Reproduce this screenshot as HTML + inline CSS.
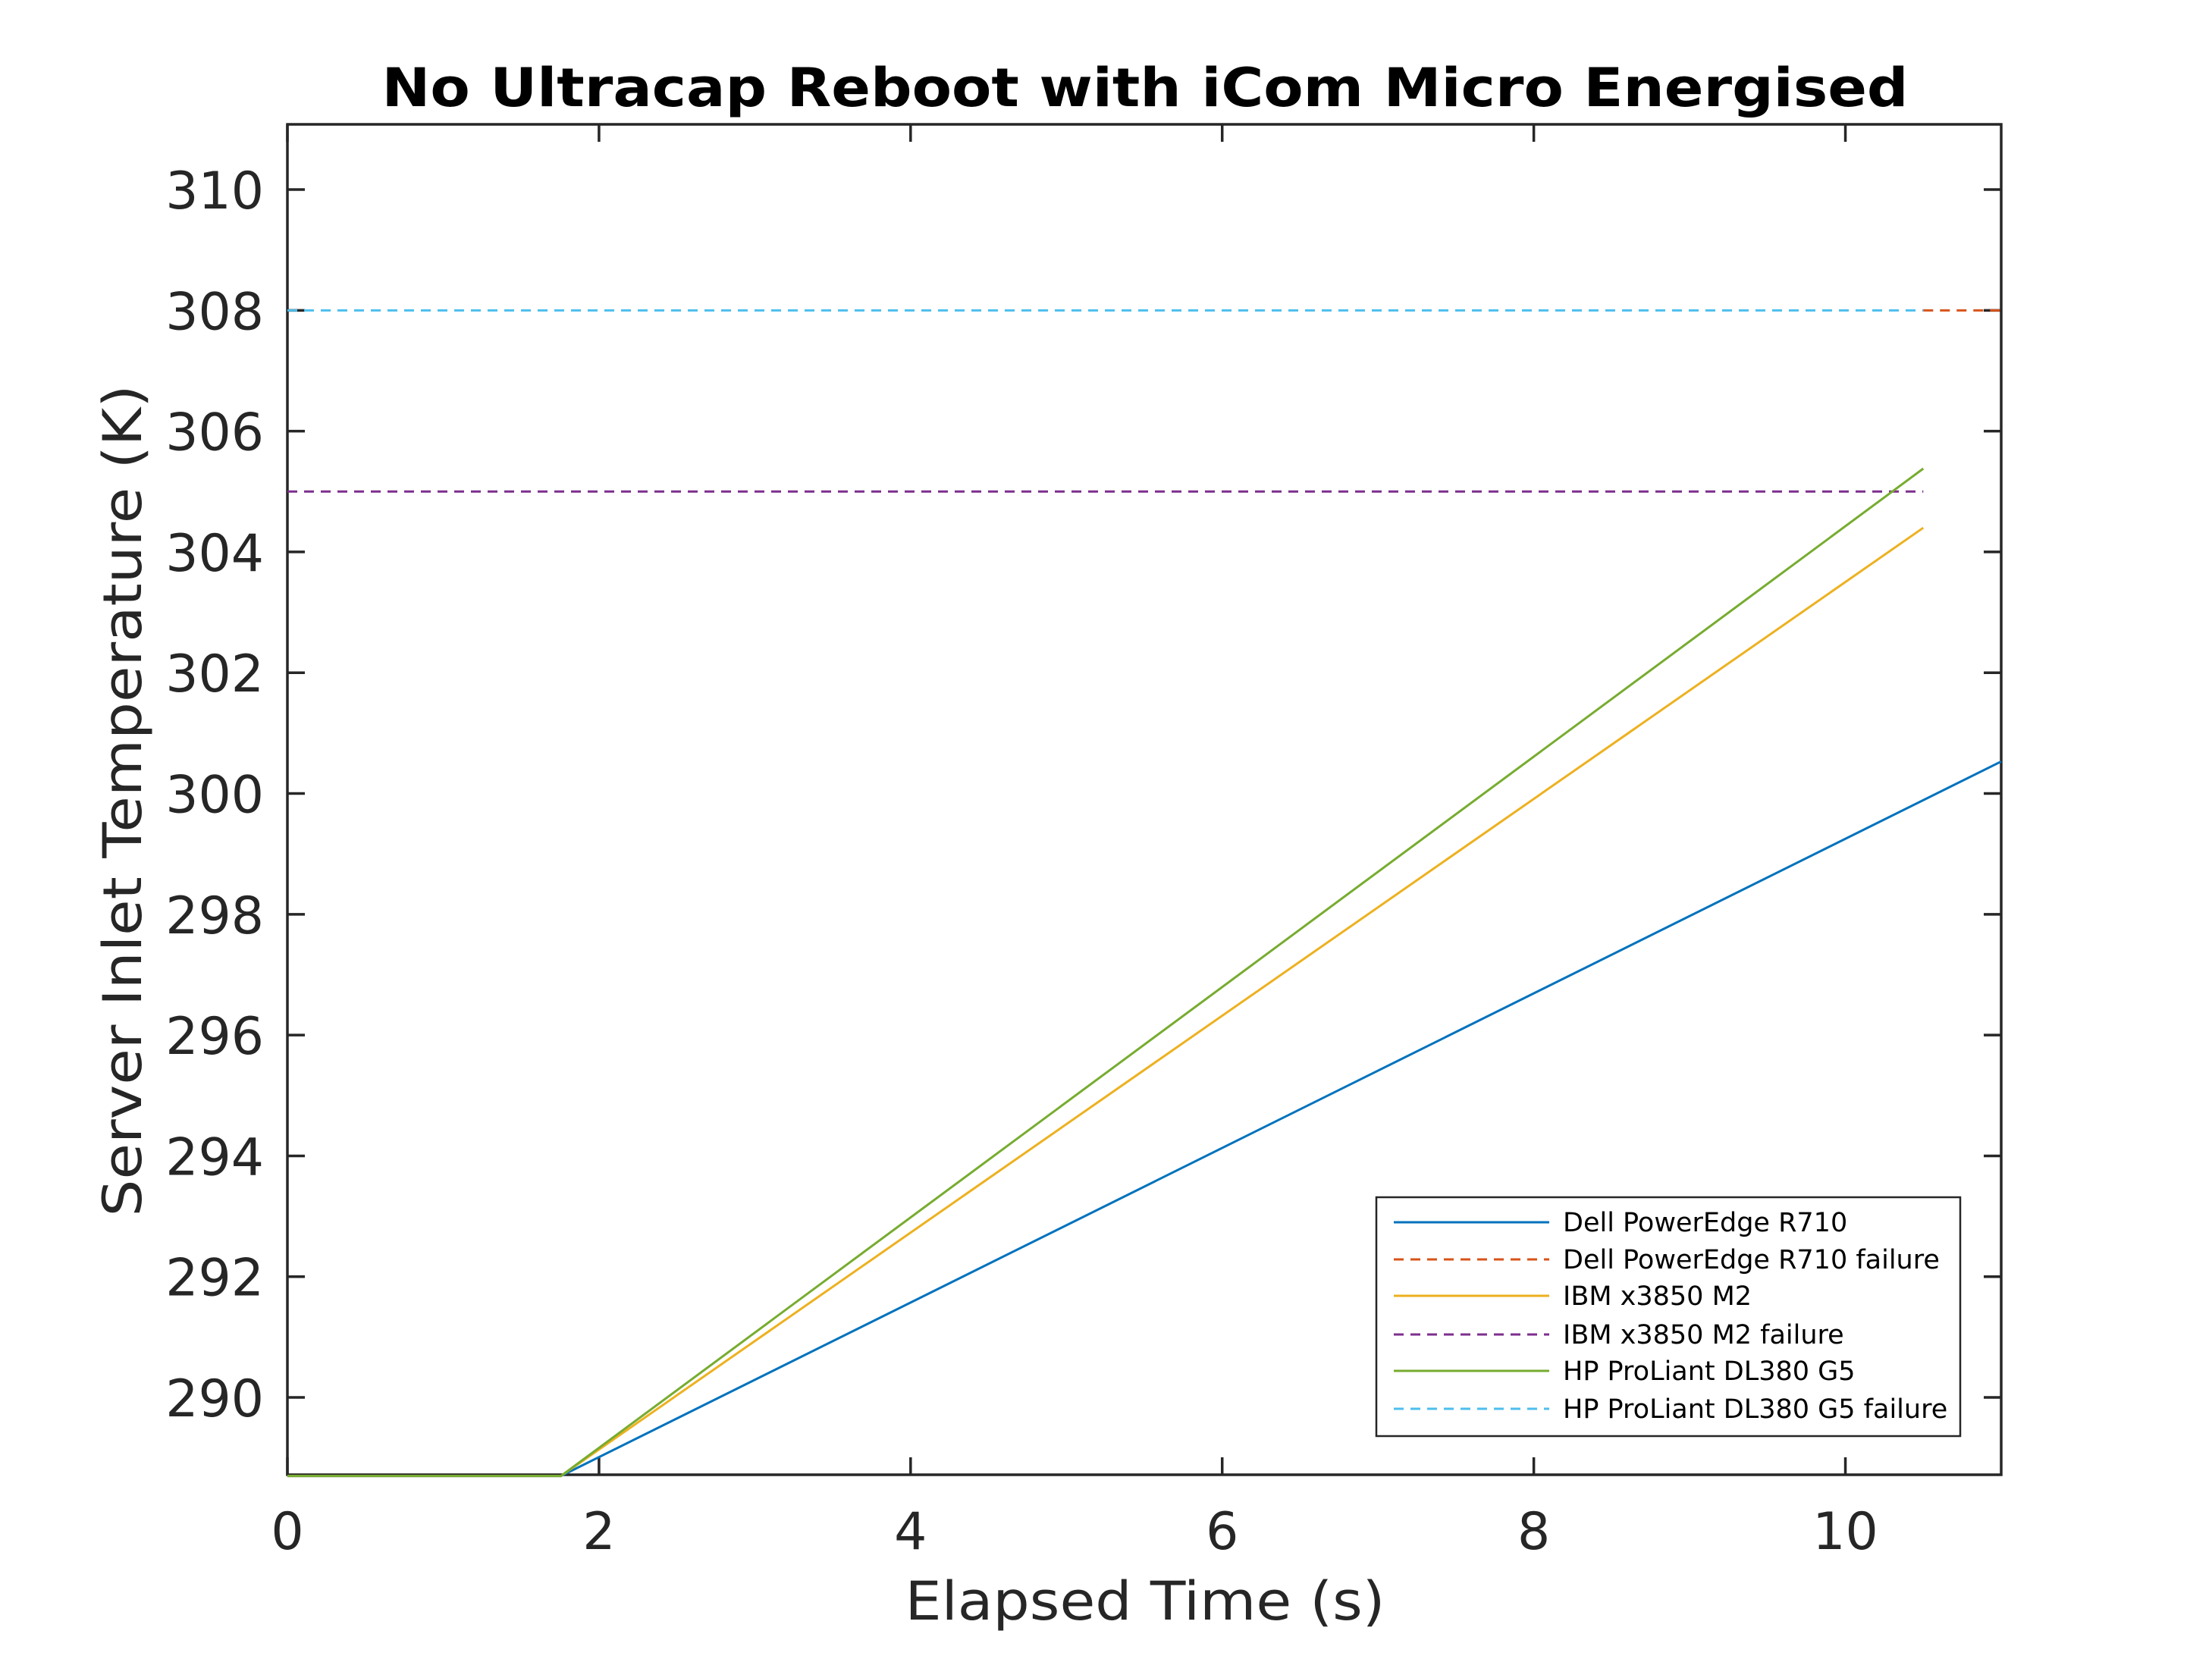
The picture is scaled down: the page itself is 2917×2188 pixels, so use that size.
<!DOCTYPE html>
<html><head><meta charset="utf-8"><style>
html,body{margin:0;padding:0;background:#fff}
svg{display:block}
text{font-family:"DejaVu Sans","Liberation Sans",sans-serif;fill:#262626}
</style></head><body>
<svg id="chart" width="2917" height="2188" viewBox="0 0 2917 2188" xmlns="http://www.w3.org/2000/svg">
<rect width="2917" height="2188" fill="#fff"/>
<text x="1510" y="140" text-anchor="middle" font-size="70" font-weight="bold" style="fill:#000" textLength="2013" lengthAdjust="spacingAndGlyphs">No Ultracap Reboot with iCom Micro Energised</text>
<g id="ticks"></g>
<rect x="379" y="164" width="2260" height="1781" fill="none" stroke="#262626" stroke-width="3.5"/>
<g id="series"></g>
<text x="1510" y="2136" text-anchor="middle" font-size="70" textLength="633" lengthAdjust="spacingAndGlyphs">Elapsed Time (s)</text>
<text transform="translate(186,1056) rotate(-90)" text-anchor="middle" font-size="70" textLength="1097" lengthAdjust="spacingAndGlyphs">Server Inlet Temperature (K)</text>
<g id="legend">
<rect x="1815" y="1579" width="770" height="315" fill="#fff" stroke="#262626" stroke-width="2.5"/>
</g>
</svg>
<script>
const xTicks=[0,2,4,6,8,10];
const yTicks=[290,292,294,296,298,300,302,304,306,308,310];
const xMin=0,xMax=11,yMin=288.72,yMax=311.08;
const names=["Dell PowerEdge R710","Dell PowerEdge R710 failure","IBM x3850 M2","IBM x3850 M2 failure","HP ProLiant DL380 G5","HP ProLiant DL380 G5 failure"];
const colors=["#0072BD","#D95319","#EDB120","#7E2F8E","#77AC30","#4DBEEE"];
const dashed=[false,true,false,true,false,true];
const dellX=[0,1.756,11];
const dellY=[288.70,288.70,300.53];
const dellFailX=[10.5,11];
const dellFailY=[308,308];
const ibmX=[0,1.756,10.5];
const ibmY=[288.70,288.70,304.40];
const ibmFailX=[0,10.5];
const ibmFailY=[305,305];
const hpX=[0,1.756,10.5];
const hpY=[288.70,288.70,305.38];
const hpFailX=[0,10.5];
const hpFailY=[308,308];
const seriesX=[dellX,dellFailX,ibmX,ibmFailX,hpX,hpFailX];
const seriesY=[dellY,dellFailY,ibmY,ibmFailY,hpY,hpFailY];
const L=379,R=2639,T=164,B=1945;
const sx=v=>L+(v-xMin)/(xMax-xMin)*(R-L);
const sy=v=>B-(v-yMin)/(yMax-yMin)*(B-T);
const NS="http://www.w3.org/2000/svg";
function mk(tag,attrs,parent){const e=document.createElementNS(NS,tag);for(const k in attrs)e.setAttribute(k,attrs[k]);parent.appendChild(e);return e;}
const tg=document.getElementById('ticks');
xTicks.forEach(v=>{const x=sx(v);
 const t1=mk('line',{x1:x,x2:x,y1:B,y2:B-23,stroke:'#262626','stroke-width':3.5},tg);
 
 
 const t2=mk('line',{x1:x,x2:x,y1:T,y2:T+23,stroke:'#262626','stroke-width':3.5},tg);
 
 
 const lb=mk('text',{x:x,y:2043,'text-anchor':'middle','font-size':68},tg);lb.textContent=v;
 
 
});
yTicks.forEach(v=>{const y=sy(v);
 const t1=mk('line',{x1:L,x2:L+23,y1:y,y2:y,stroke:'#262626','stroke-width':3.5},tg);
 
 
 const t2=mk('line',{x1:R,x2:R-23,y1:y,y2:y,stroke:'#262626','stroke-width':3.5},tg);
 
 
 const lb=mk('text',{x:348,y:y+25,'text-anchor':'end','font-size':68},tg);lb.textContent=v;
 
 
});
const sg=document.getElementById('series');
seriesX.forEach((xs,i)=>{
 const pts=xs.map((x,j)=>sx(x)+','+sy(seriesY[i][j])).join(' ');
 const a={points:pts,fill:'none',stroke:colors[i],'stroke-width':3};
 if(dashed[i])a['stroke-dasharray']='13 9';
 const p=mk('polyline',a,sg);
 
 
});
const lg=document.getElementById('legend');
const ly=[1612,1661,1709,1760,1808,1858];
names.forEach((n,i)=>{
 const a={x1:1838,x2:2043,y1:ly[i],y2:ly[i],stroke:colors[i],'stroke-width':3};
 if(dashed[i])a['stroke-dasharray']='13 9';
 const l=mk('line',a,lg);
 
 
 const t=mk('text',{x:2061,y:ly[i]+12,'font-size':35},lg);t.textContent=n;t.style.fill='#000';
 
 
});
</script>
</body></html>
